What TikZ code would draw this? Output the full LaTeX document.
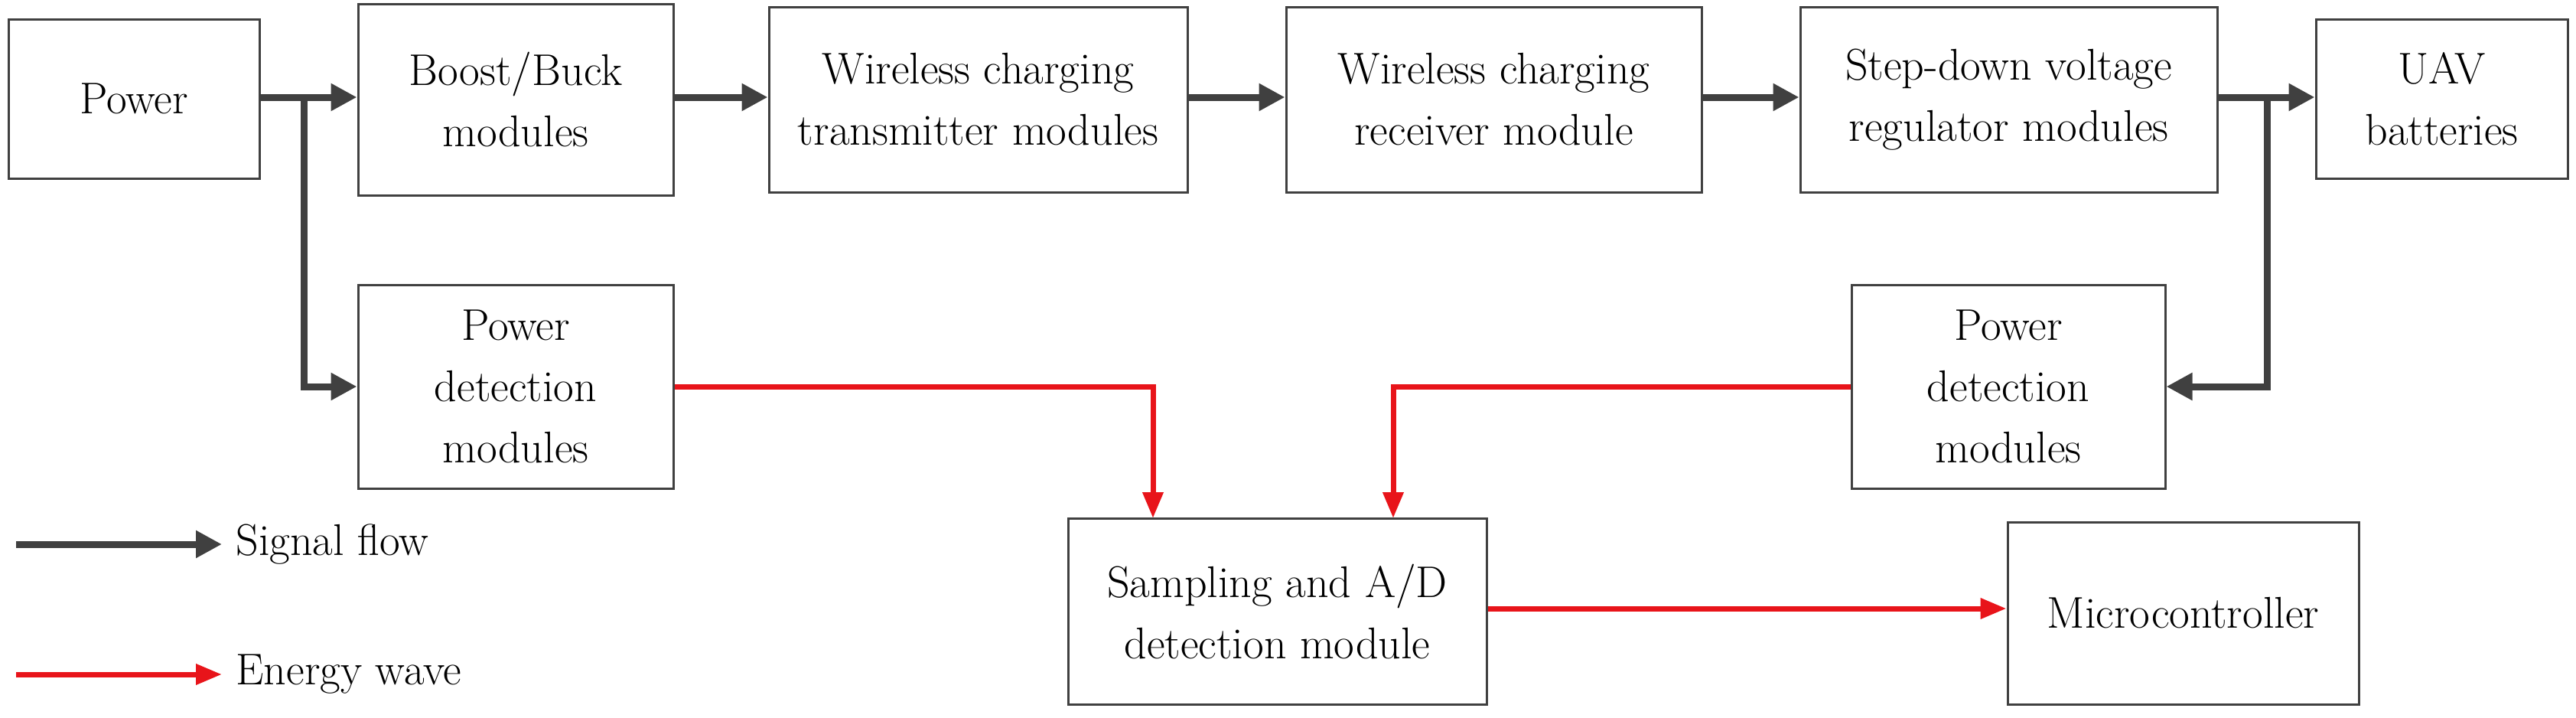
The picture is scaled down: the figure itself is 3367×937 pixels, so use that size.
\documentclass[tikz,border=0pt]{standalone}
\usetikzlibrary{arrows.meta}
\definecolor{sig}{HTML}{404040}
\definecolor{en}{HTML}{E8141A}
\begin{document}
\begin{tikzpicture}[x=1pt,y=-1pt,
  box/.style={draw=black!75,line width=3pt,align=center,font=\fontsize{58}{80}\selectfont,inner sep=0pt},
  sg/.style={draw=sig,line width=9pt,-{Triangle[length=34pt,width=34pt]}},
  eg/.style={draw=en,line width=7pt,-{Triangle[length=34pt,width=26pt]}}]
\useasboundingbox (0,0) rectangle (3367,937);
\def\bx#1#2#3#4#5#6{\node[box,minimum width=#4-#2,minimum height=#5-#3] (#1) at ({(#2+#4)/2},{(#3+#5)/2}) {#6};}
\bx{pw}{11}{25}{339}{233}{Power}
\bx{bb}{468}{5}{880}{255}{Boost/Buck\\modules}
\bx{tx}{1005}{9}{1552}{251}{Wireless charging\\transmitter modules}
\bx{rx}{1681}{9}{2224}{251}{Wireless charging\\receiver module}
\bx{sd}{2353}{9}{2898}{251}{Step-down voltage\\regulator modules}
\bx{uav}{3027}{25}{3356}{233}{UAV\\batteries}
\bx{pdl}{468}{372}{880}{638}{Power\\detection\\modules}
\bx{pdr}{2420}{372}{2830}{638}{Power\\detection\\modules}
\bx{sa}{1396}{677}{1943}{920}{Sampling and A/D\\detection module}
\bx{mc}{2624}{682}{3083}{920}{Microcontroller}
\draw[sg] (pw.east|-0,127) -- (bb.west|-0,127);
\draw[sg] (bb.east|-0,127) -- (tx.west|-0,127);
\draw[sg] (tx.east|-0,127) -- (rx.west|-0,127);
\draw[sg] (rx.east|-0,127) -- (sd.west|-0,127);
\draw[sg] (sd.east|-0,127) -- (uav.west|-0,127);
\coordinate (bl) at (397,127);
\coordinate (br) at (2963,127);
\draw[sg] (bl) -- (397,505) -- (pdl.west|-0,505);
\draw[sg] (br) -- (2963,505) -- (pdr.east|-0,505);
\draw[eg] (pdl.east|-0,505) -- (1507,505) -- (1507,677);
\draw[eg] (pdr.west|-0,505) -- (1821,505) -- (1821,677);
\draw[eg] (sa.east|-0,795) -- (mc.west|-0,795);
\coordinate (l1) at (21,711); \coordinate (l2) at (290,711);
\coordinate (l3) at (21,881); \coordinate (l4) at (290,881);
\draw[sg] (l1) -- (l2);
\draw[eg] (l3) -- (l4);
\node[anchor=west,font=\fontsize{58}{80}\selectfont] (t1) at (305,711) {Signal flow};
\node[anchor=west,font=\fontsize{58}{80}\selectfont] (t2) at (305,881) {Energy wave};
\end{tikzpicture}
\end{document}
